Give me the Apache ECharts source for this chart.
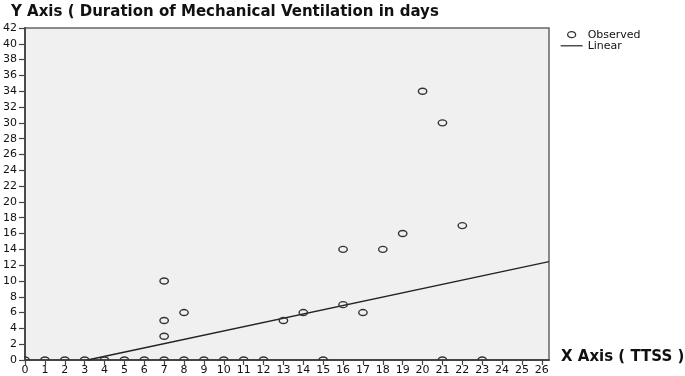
<!DOCTYPE html>
<html>
<head>
<meta charset="utf-8">
<script src="https://cdn.jsdelivr.net/npm/echarts@6/dist/echarts.min.js"></script>
<style>
  html, body { margin: 0; padding: 0; background: #fff; }
  #chart { width: 685px; height: 376px; }
</style>
</head>
<body>
<div id="chart"></div>
<script>
// observed points (TTSS vs days on ventilation)
const obsX = [0, 1, 2, 3, 4, 5, 6, 7, 8, 9, 10, 11, 12, 15, 21, 23,
  7, 7, 7, 8, 13, 14, 16, 17, 16, 18, 19, 20, 21, 22];
const obsY = [0, 0, 0, 0, 0, 0, 0, 0, 0, 0, 0, 0, 0, 0, 0, 0,
  3, 5, 10, 6, 5, 6, 7, 6, 14, 14, 16, 34, 30, 17];

// linear fit line
const fitX = [3.14, 26.36];
const fitY = [0, 12.44];

const xTicks = [0, 1, 2, 3, 4, 5, 6, 7, 8, 9, 10, 11, 12, 13, 14, 15, 16, 17, 18, 19, 20, 21, 22, 23, 24, 25, 26];

const labelFont = {
  color: "#111",
  fontSize: 11,
  fontFamily: "DejaVu Sans",
};

let chart = echarts.init(document.getElementById("chart"));
let option = {
  animation: false,
  backgroundColor: "#fff",
  title: [
    {
      text: "Y Axis ( Duration of Mechanical Ventilation in days",
      left: 6,
      top: 0,
      textStyle: { fontFamily: "DejaVu Sans", fontWeight: "bold", fontSize: 15, color: "#111" },
    },
    {
      text: "X Axis ( TTSS )",
      left: 556,
      top: 345,
      textStyle: { fontFamily: "DejaVu Sans", fontWeight: "bold", fontSize: 15, color: "#111" },
    },
  ],
  legend: {
    orient: "vertical",
    left: 560,
    top: 29,
    itemWidth: 22,
    itemHeight: 10,
    itemGap: 0,
    padding: 0,
    textStyle: { color: "#111", fontSize: 11, fontFamily: "DejaVu Sans" },
    data: [
      {
        name: "Observed",
        // small open ellipse, padded to the full icon box
        icon: "path://M0,0M22,10M7,5a4,3 0 1,0 8,0a4,3 0 1,0 -8,0z",
        itemStyle: { color: "transparent", borderColor: "#333", borderWidth: 1.3 },
      },
      { name: "Linear", itemStyle: { opacity: 0 }, lineStyle: { color: "#222", width: 1.2 } },
    ],
  },
  grid: {
    left: 22.5,
    top: 28,
    right: 136,
    bottom: 16,
    show: true,
    backgroundColor: "#f0f0f0",
    borderColor: "#666",
    borderWidth: 1.5,
  },
  xAxis: {
    type: "value",
    min: 0,
    max: 26.36,
    splitLine: { show: false },
    axisLine: { show: true, onZero: false, lineStyle: { color: "#444", width: 1.8 } },
    axisTick: { show: true, length: 5, customValues: xTicks, lineStyle: { color: "#444", width: 1.2 } },
    axisLabel: Object.assign({ margin: 5, customValues: xTicks }, labelFont),
  },
  yAxis: {
    type: "value",
    min: 0,
    max: 42,
    interval: 2,
    splitLine: { show: false },
    axisLine: { show: true, onZero: false, lineStyle: { color: "#444", width: 1.8 } },
    axisTick: { show: true, length: 6, lineStyle: { color: "#444", width: 1.2 } },
    axisLabel: Object.assign({ margin: 8 }, labelFont),
  },
  series: [
    {
      name: "Observed",
      type: "custom",
      clip: true,
      z: 3,
      data: obsX.map((x, i) => [x, obsY[i]]),
      renderItem: function (params, api) {
        let p = api.coord([api.value(0), api.value(1)]);
        return {
          type: "ellipse",
          shape: { cx: p[0], cy: p[1], rx: 4.2, ry: 3 },
          style: { fill: null, stroke: "#333", lineWidth: 1.4 },
        };
      },
    },
    {
      name: "Linear",
      type: "line",
      clip: true,
      z: 2,
      showSymbol: false,
      symbol: "none",
      data: fitX.map((x, i) => [x, fitY[i]]),
      lineStyle: { color: "#222", width: 1.3 },
    },
  ],
};
chart.setOption(option);
</script>
</body>
</html>
